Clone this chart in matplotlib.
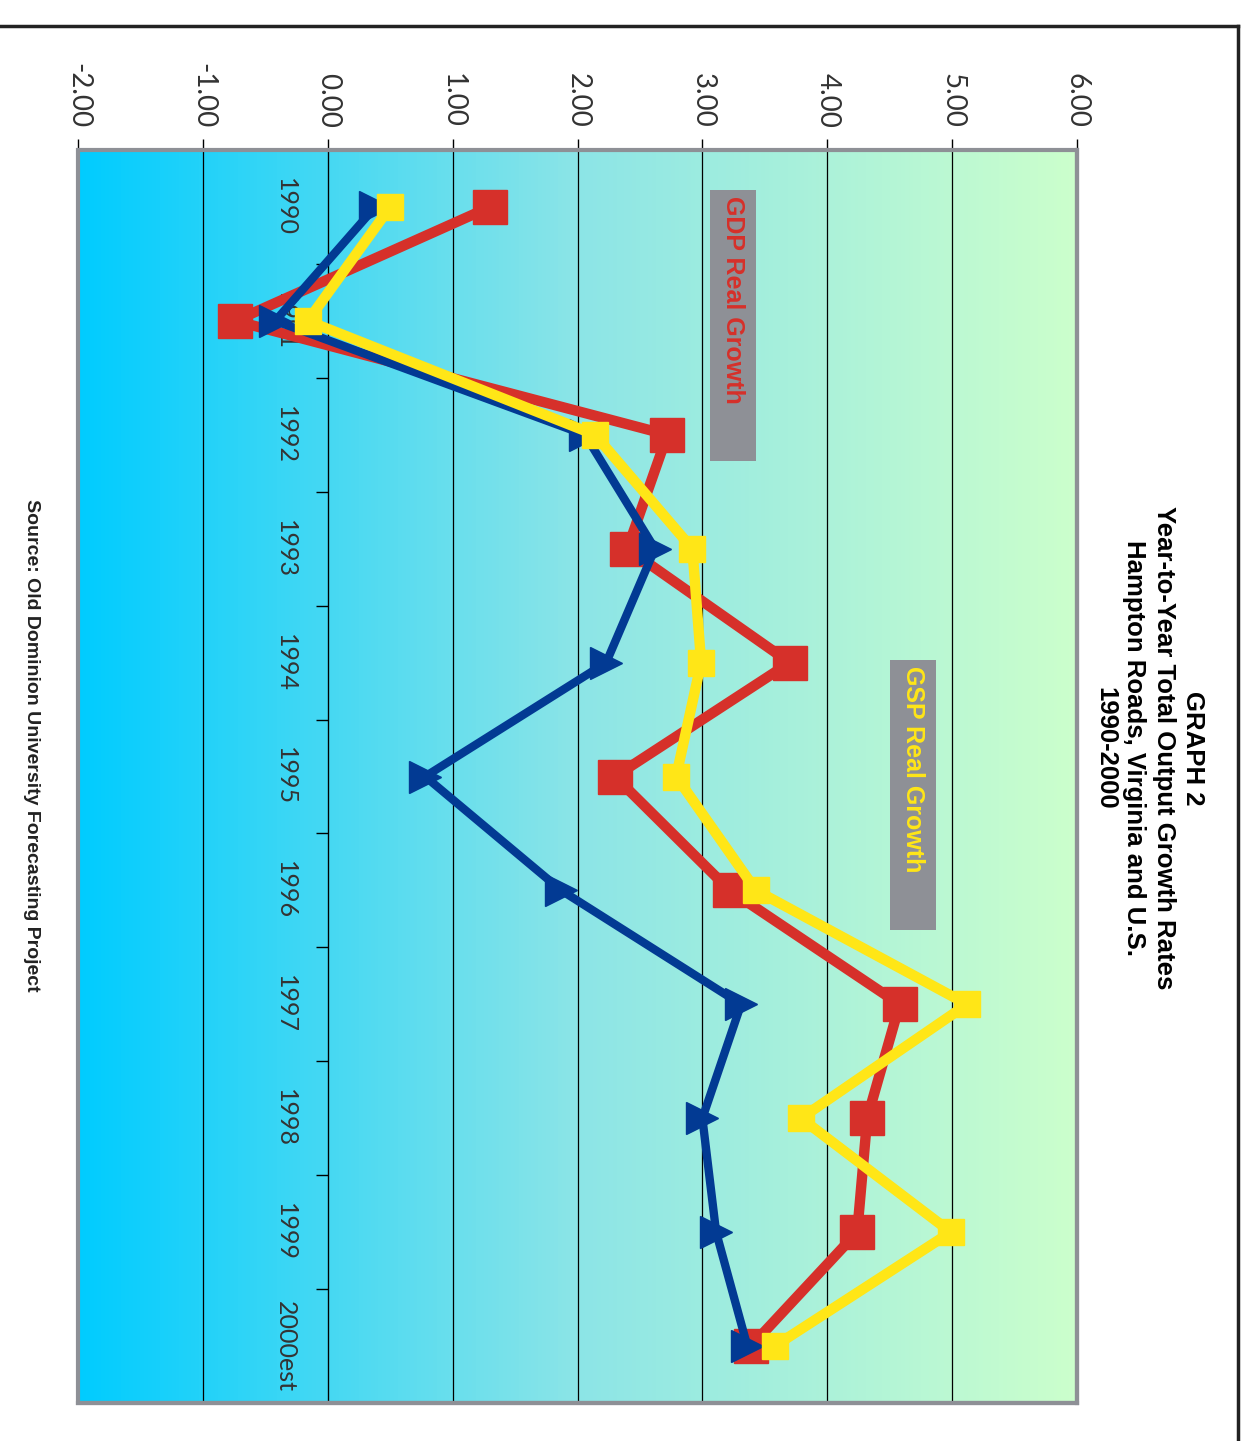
import matplotlib
matplotlib.use("Agg")
import matplotlib.pyplot as plt
import numpy as np
from matplotlib.colors import LinearSegmentedColormap
from matplotlib.patches import Rectangle
from matplotlib.lines import Line2D

years = ["1990", "1991", "1992", "1993", "1994", "1995", "1996", "1997", "1998", "1999", "2000est"]
gdp_growth = [1.30, -0.74, 2.72, 2.40, 3.70, 2.30, 3.22, 4.58, 4.32, 4.24, 3.39]
gsp_growth = [0.50, -0.16, 2.14, 2.92, 2.99, 2.79, 3.43, 5.12, 3.79, 4.99, 3.58]
hr_growth = [0.38, -0.42, 2.06, 2.62, 2.23, 0.78, 1.87, 3.31, 3.00, 3.11, 3.36]
value_ticks = [-2, -1, 0, 1, 2, 3, 4, 5, 6]

SANS = ["Liberation Sans", "DejaVu Sans"]
LIGHT = ["Lato", "Open Sans", "DejaVu Sans"]

W, H = 1245, 1441
fig = plt.figure(figsize=(W / 100, H / 100), dpi=100)
ax = fig.add_axes([78 / W, (H - 1403) / H, (1077 - 78) / W, (1403 - 150) / H])

n = len(years)
idx = np.arange(n)

# background gradient along the value axis
cmap = LinearSegmentedColormap.from_list("bg", ["#00CCFF", "#8CE5E7", "#CCFFCC"])
grad = np.linspace(0, 1, 256).reshape(1, -1)
ax.imshow(grad, cmap=cmap, extent=[-2, 6, n - 0.5, -0.5], aspect="auto", zorder=0)

ax.set_xlim(-2, 6)
ax.set_ylim(n - 0.5, -0.5)

ax.plot(gdp_growth, idx, color="#D6302A", lw=7.5, marker="s", ms=25, zorder=3)
ax.plot(hr_growth, idx, color="#023A93", lw=6, marker=">", ms=23, zorder=4)
ax.plot(gsp_growth, idx, color="#FFE617", lw=7.5, marker="s", ms=19, zorder=5)

# value axis on top
ax.xaxis.tick_top()
ax.set_xticks(value_ticks)
ax.set_xticklabels([f"{v:.2f}" for v in value_ticks], rotation=-90,
                   fontsize=20, family=LIGHT, color="#333333")
ax.tick_params(axis="x", direction="out", length=8, width=1, pad=8, color="black")
ax.grid(axis="x", color="black", lw=0.9, zorder=1)

# category axis sits on the zero line
ax.spines["left"].set_position(("data", 0))
ax.spines["left"].set_zorder(2)
ax.set_yticks(idx)
ax.set_yticklabels(years, rotation=-90, fontsize=18, family=LIGHT,
                   color="#333333", va="center")
ax.set_yticks(idx[:-1] + 0.5, minor=True)
ax.tick_params(axis="y", which="major", length=0, pad=22)
ax.tick_params(axis="y", which="minor", direction="out", length=9, width=1, color="black")

for side in ["right", "bottom"]:
    ax.spines[side].set_color("#8E9096")
    ax.spines[side].set_linewidth(3)
ax.spines["top"].set_color("black")
ax.spines["top"].set_linewidth(1.5)
ax.add_patch(Rectangle((0, 0), 1, 1, transform=ax.transAxes, fill=False,
                       ec="#8E9096", lw=3, zorder=6, clip_on=False))

# series labels on grey boxes
ax.add_patch(Rectangle((3.06, -0.5 + 40 / 114), 0.37, 271 / 114, fc="#8E9096", ec="none", zorder=2))
ax.text(3.245, -0.5 + 46 / 114, "GDP Real Growth", rotation=-90, color="#D6302A",
        fontsize=18, fontweight="bold", family=SANS, ha="center", va="top", zorder=2.5)
ax.add_patch(Rectangle((4.50, -0.5 + 510 / 114), 0.37, 271 / 114, fc="#8E9096", ec="none", zorder=2))
ax.text(4.685, -0.5 + 516 / 114, "GSP Real Growth", rotation=-90, color="#FFE617",
        fontsize=18, fontweight="bold", family=SANS, ha="center", va="top", zorder=2.5)

# titles
fig.text(1149 / W, 1 - 748 / H,
         "GRAPH 2\nYear-to-Year Total Output Growth Rates\nHampton Roads, Virginia and U.S.\n1990-2000",
         rotation=-90, ha="center", va="center", multialignment="center",
         fontsize=18.5, fontweight="bold", family=SANS, linespacing=1.28)
fig.text(31 / W, 1 - 745 / H, "Source: Old Dominion University Forecasting Project",
         rotation=-90, ha="center", va="center", fontsize=14, fontweight="bold",
         family=SANS, color="#222222")

# page frame
fig.add_artist(Line2D([0, 1238 / W], [1 - 26 / H, 1 - 26 / H], transform=fig.transFigure,
                      color="#222222", lw=2.5))
fig.add_artist(Line2D([1238 / W, 1238 / W], [1 - 26 / H, 0], transform=fig.transFigure,
                      color="#222222", lw=2.5))

fig.savefig("out.png", dpi=100)
